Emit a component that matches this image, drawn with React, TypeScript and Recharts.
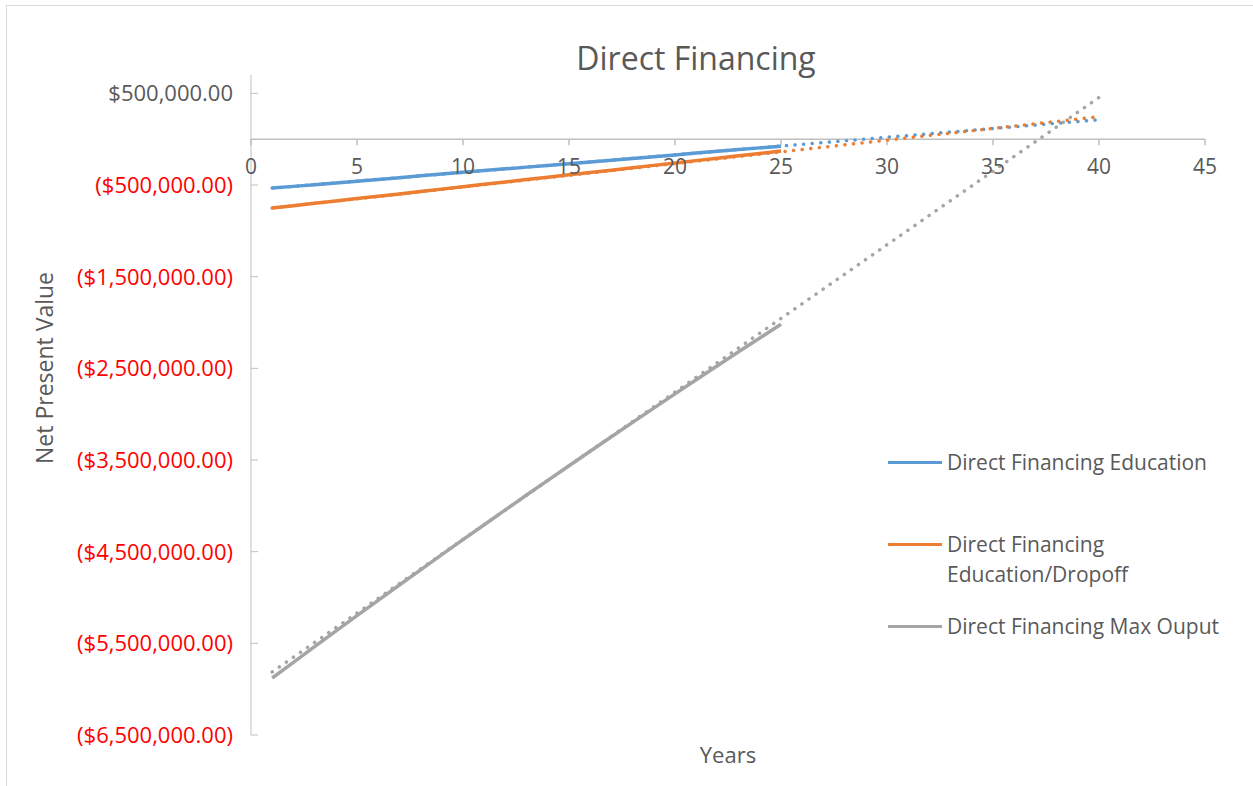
import React from "react";
import {
  LineChart,
  Line,
  XAxis,
  YAxis,
  ReferenceLine,
  Legend,
} from "recharts";

// years 1..40 (solid series run to 25, trendlines forecast to 40)
const years = [
  1, 2, 3, 4, 5, 6, 7, 8, 9, 10, 11, 12, 13, 14, 15, 16, 17, 18, 19, 20,
  21, 22, 23, 24, 25, 26, 27, 28, 29, 30, 31, 32, 33, 34, 35, 36, 37, 38, 39, 40,
];

const education = [
  -534000, -515000, -496000, -477000, -458000, -439000, -420000, -400000,
  -381000, -362000, -343000, -324000, -305000, -286000, -267000, -248000,
  -229000, -210000, -191000, -172000, -152000, -133000, -114000, -95000, -76000,
];

const dropoff = [
  -752000, -726000, -700000, -674000, -648000, -623000, -597000, -571000,
  -545000, -519000, -493000, -467000, -441000, -415000, -389000, -364000,
  -338000, -312000, -286000, -260000, -234000, -208000, -182000, -156000, -130000,
];

const maxOutput = [
  -5878000, -5707000, -5536000, -5367000, -5198000, -5031000, -4864000,
  -4698000, -4533000, -4369000, -4206000, -4044000, -3882000, -3722000,
  -3563000, -3404000, -3247000, -3090000, -2934000, -2779000, -2625000,
  -2472000, -2320000, -2169000, -2019000,
];

// linear trendline end points (year 1 and year 40)
const trendYears = [1, 40];
const educationTrend = [-534000, 212000];
const dropoffTrend = [-752000, 245000];
const maxOutputTrend = [-5812000, 455000];

const xTicks = [0, 5, 10, 15, 20, 25, 30, 35, 40, 45];
const yTicks = [
  500000, -500000, -1500000, -2500000, -3500000, -4500000, -5500000, -6500000,
];

const series = [
  { key: "edu", name: "Direct Financing Education", color: "#5b9bd5" },
  { key: "drop", name: "Direct Financing Education/Dropoff", color: "#ed7d31" },
  { key: "max", name: "Direct Financing Max Ouput", color: "#a5a5a5" },
];

const trendAt = (arr: number[], x: number) => {
  const i = trendYears.indexOf(x);
  return i >= 0 ? arr[i] : undefined;
};

const data = years.map((x, i) => ({
  x,
  edu: education[i],
  drop: dropoff[i],
  max: maxOutput[i],
  eduTrend: trendAt(educationTrend, x),
  dropTrend: trendAt(dropoffTrend, x),
  maxTrend: trendAt(maxOutputTrend, x),
}));

const FONT = "'Open Sans', 'Noto Sans', sans-serif";
const GREY_TEXT = "#595959";
const AXIS = "#bfbfbf";

const money = (v: number) => {
  const s =
    "$" +
    Math.abs(v).toLocaleString("en-US", {
      minimumFractionDigits: 2,
      maximumFractionDigits: 2,
    });
  return v < 0 ? `(${s})` : s;
};

const YTick = ({ x, y, payload }: any) => (
  <text
    x={x}
    y={y}
    dy="0.36em"
    textAnchor="end"
    fontSize={22}
    fontFamily={FONT}
    fill={payload.value < 0 ? "#ff0000" : GREY_TEXT}
  >
    {money(payload.value)}
  </text>
);

const YLabel = ({ viewBox }: any) => {
  const cx = viewBox.x + 44;
  const cy = viewBox.y + viewBox.height / 2 - 37;
  return (
    <text
      x={cx}
      y={cy}
      transform={`rotate(-90, ${cx}, ${cy})`}
      textAnchor="middle"
      dominantBaseline="central"
      fontSize={23}
      fontFamily={FONT}
      fill={GREY_TEXT}
    >
      Net Present Value
    </text>
  );
};

const LegendBox = () => (
  <div style={{ fontFamily: FONT, fontSize: 21, color: GREY_TEXT, lineHeight: "30px", textAlign: "left" }}>
    {series.map((s, i) => (
      <div
        key={s.key}
        style={{
          display: "flex",
          alignItems: "flex-start",
          marginBottom: i === 0 ? 52 : 22,
        }}
      >
        <div
          style={{
            width: 54,
            height: 3,
            background: s.color,
            marginTop: 14,
            marginRight: 5,
            flexShrink: 0,
          }}
        />
        <div style={{ width: i === 1 ? 200 : 300 }}>{s.name}</div>
      </div>
    ))}
  </div>
);

export default function App() {
  return (
    <div style={{ position: "absolute", left: 0, top: 0, width: 1253, height: 786, overflow: "hidden", background: "#fff" }}>
      <div
        style={{
          position: "absolute",
          left: 6,
          top: 5,
          width: 1270,
          height: 800,
          border: "1px solid #d9d9d9",
        }}
      />
      <div
        style={{
          position: "absolute",
          left: 0,
          top: 36,
          width: 1392,
          textAlign: "center",
          fontFamily: FONT,
          fontSize: 32,
          color: GREY_TEXT,
        }}
      >
        Direct Financing
      </div>
      <div
        style={{
          position: "absolute",
          left: 0,
          top: 739,
          width: 1456,
          textAlign: "center",
          fontFamily: FONT,
          fontSize: 22,
          color: GREY_TEXT,
        }}
      >
        Years
      </div>
      <div style={{ position: "absolute", left: 0, top: 0 }}>
        <LineChart
          width={1253}
          height={786}
          data={data}
          margin={{ top: 75, right: 48, bottom: 51, left: 0 }}
        >
          <XAxis
            dataKey="x"
            type="number"
            domain={[0, 45]}
            ticks={xTicks}
            hide
          />
          <YAxis
            type="number"
            domain={[-6500000, 700000]}
            ticks={yTicks}
            interval={0}
            width={251}
            stroke={AXIS}
            tickSize={-7}
            tickMargin={25}
            tick={<YTick />}
            label={<YLabel />}
          />
          <ReferenceLine y={0} stroke={AXIS} strokeWidth={1.5} />
          {xTicks.map((t) => (
            <ReferenceLine
              key={t}
              segment={[
                { x: t, y: 0 },
                { x: t, y: -65000 },
              ]}
              stroke={AXIS}
              strokeWidth={1.5}
              label={{
                value: String(t),
                position: "bottom",
                offset: 14,
                fill: GREY_TEXT,
                fontSize: 21,
                fontFamily: FONT,
              }}
            />
          ))}
          <Legend
            layout="horizontal"
            verticalAlign="middle"
            align="center"
            content={<LegendBox />}
            wrapperStyle={{ left: 888, top: 447, width: 360 }}
          />
          {series.map((s) => (
            <Line
              key={s.key + "Trend"}
              dataKey={s.key + "Trend"}
              stroke={s.color}
              strokeWidth={3.5}
              strokeDasharray="0.1 8.5"
              strokeLinecap="round"
              dot={false}
              connectNulls
              legendType="none"
              isAnimationActive={false}
            />
          ))}
          {series.map((s) => (
            <Line
              key={s.key}
              dataKey={s.key}
              name={s.name}
              stroke={s.color}
              strokeWidth={3.5}
              dot={false}
              isAnimationActive={false}
            />
          ))}
        </LineChart>
      </div>
    </div>
  );
}
